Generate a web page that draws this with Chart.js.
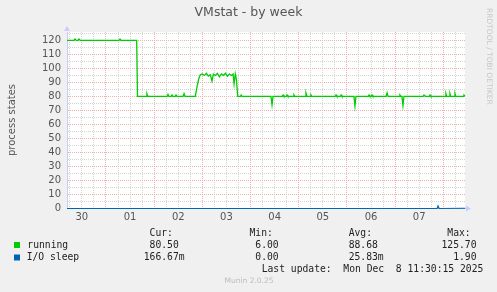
<!DOCTYPE html>
<html lang="en">
<head>
<meta charset="UTF-8">
<title>VMstat - by week</title>
<style>
  body { margin: 0; padding: 0; background: #f0f0f0; }
  #wrap { width: 497px; height: 292px; }
</style>
<script src="https://cdn.jsdelivr.net/npm/chart.js"></script>
</head>
<body>
<div id="wrap"><canvas id="vmstat" width="497" height="292"></canvas></div>
<script>
// x values are hours counted from Nov 30 00:00
var dayLabels = ['30', '01', '02', '03', '04', '05', '06', '07'];

var runningHours = [4.6, 8.0, 8.6, 9.2, 10.0, 10.6, 11.2, 30.5, 31.0, 31.5, 39.3, 39.7,
  44.0, 44.4, 44.9, 54.5, 54.9, 55.4, 56.5, 56.9, 57.4, 58.5, 58.9, 59.4, 62.4, 62.9, 63.4,
  68.5, 69.5, 70.3, 71.0, 72.0, 73.0, 74.0, 75.0, 76.0, 76.8, 77.5, 78.5, 79.5, 80.5, 81.5,
  82.5, 83.5, 84.5, 85.5, 86.5, 87.3, 87.8, 88.4, 89.0, 89.6,
  91.0, 91.3, 91.8, 106.2, 106.7, 107.2, 111.8, 112.2, 112.6, 113.8, 114.2, 114.6,
  117.2, 117.6, 118.0, 123.2, 123.6, 124.1, 125.7, 126.1, 126.5, 138.2, 138.6, 139.0,
  140.7, 141.1, 141.5, 147.5, 148.0, 148.5, 154.6, 155.0, 155.4, 156.1, 156.5, 156.9,
  163.5, 164.0, 164.5, 170.0, 170.4, 170.9, 171.4, 171.9, 172.4, 182.0, 182.4, 182.8, 183.2,
  185.0, 185.4, 185.8, 192.9, 193.3, 193.7, 194.9, 195.3, 195.7, 197.4, 197.8, 198.2,
  201.9, 202.3, 202.8];
var runningValues = [120, 120, 121, 120, 120, 121, 120, 120, 121, 120, 120, 80,
  80, 82, 80, 80, 81.5, 80, 80, 81, 80, 80, 81, 80, 80, 82, 80,
  80, 88, 93, 95.5, 96, 95, 96.5, 94.5, 95.5, 91, 96, 95, 96.5, 94, 96,
  95, 96.5, 94.5, 96, 95, 96, 89, 96, 92, 80,
  80, 81, 80, 80, 74, 80, 80, 81, 80, 80, 81, 80,
  80, 81, 80, 80, 82.5, 80, 80, 81, 80, 80, 81, 80,
  80, 81, 80, 80, 73, 80, 80, 81, 80, 80, 81, 80,
  80, 82.5, 80, 80, 81, 80, 80, 73.5, 80, 80, 81, 81, 80,
  80, 81, 80, 80, 82, 80, 80, 82, 80, 80, 82, 80,
  80, 81, 80.5];

var ioHours = [4.6, 188.9, 189.4, 189.9, 202.8];
var ioValues = [0, 0, 1.9, 0, 0.17];

var statHeaders = ['Cur:', 'Min:', 'Avg:', 'Max:'];
var runningStats = ['80.50', '6.00', '88.68', '125.70'];
var ioStats = ['166.67m', '0.00', '25.83m', '1.90'];

function toPoints(xs, ys) {
  return xs.map(function (x, i) { return { x: x, y: ys[i] }; });
}

var MONO = '9.7px "DejaVu Sans Mono", monospace';
var SANS = '"DejaVu Sans", sans-serif';
var colEnds = [184.6, 284.5, 383.7, 482.3];
var MINOR = 'rgb(212,212,212)';
var MAJOR = 'rgb(242,175,175)';

var munin = {
  id: 'munin',
  beforeDraw: function (chart) {
    var ctx = chart.ctx, a = chart.chartArea;
    ctx.save();
    ctx.fillStyle = '#f0f0f0';
    ctx.fillRect(0, 0, chart.width, chart.height);
    ctx.fillStyle = '#ffffff';
    ctx.fillRect(a.left, a.top, a.right - a.left, a.bottom - a.top);
    ctx.restore();
  },
  afterDraw: function (chart) {
    var ctx = chart.ctx, a = chart.chartArea;
    ctx.save();
    // axis arrows
    ctx.fillStyle = '#c8ccff';
    ctx.beginPath();
    ctx.moveTo(a.left - 3, a.top - 1);
    ctx.lineTo(a.left + 3, a.top - 1);
    ctx.lineTo(a.left, a.top - 6);
    ctx.fill();
    ctx.beginPath();
    ctx.moveTo(a.right + 1, a.bottom - 3);
    ctx.lineTo(a.right + 1, a.bottom + 3);
    ctx.lineTo(a.right + 6, a.bottom);
    ctx.fill();

    // title
    ctx.fillStyle = '#555';
    ctx.font = '12.5px ' + SANS;
    ctx.textAlign = 'center';
    ctx.textBaseline = 'middle';
    ctx.fillText('VMstat - by week', 248.5, 13);

    // y title
    ctx.save();
    ctx.translate(12, 120);
    ctx.rotate(-Math.PI / 2);
    ctx.font = '10px ' + SANS;
    ctx.fillText('process states', 0, 0);
    ctx.restore();

    // side watermark
    ctx.save();
    ctx.translate(489, 8);
    ctx.rotate(Math.PI / 2);
    ctx.fillStyle = '#c8c8c8';
    ctx.font = '7.5px ' + SANS;
    ctx.textAlign = 'left';
    ctx.fillText('RRDTOOL / TOBI OETIKER', 0, 0);
    ctx.restore();

    // legend
    ctx.font = MONO;
    ctx.fillStyle = '#222';
    ctx.textAlign = 'right';
    statHeaders.forEach(function (h, i) { ctx.fillText(h + '  ', colEnds[i], 233.5); });
    function row(stats, y) {
      stats.forEach(function (s, i) {
        ctx.fillText(/m$/.test(s) ? s : s + ' ', colEnds[i], y);
      });
    }
    row(runningStats, 245.3);
    row(ioStats, 257.7);
    ctx.textAlign = 'left';
    ctx.fillText('running', 27.3, 245.3);
    ctx.fillText('I/O sleep', 26.7, 257.7);
    ctx.fillText('Last update:  Mon Dec  8 11:30:15 2025', 261.7, 269.7);
    ctx.fillStyle = '#00cc00';
    ctx.fillRect(14, 242, 6, 6);
    ctx.fillStyle = '#0066b3';
    ctx.fillRect(14, 254.5, 6, 6);

    ctx.fillStyle = '#bbbbbb';
    ctx.font = '7.5px ' + SANS;
    ctx.textAlign = 'center';
    ctx.fillText('Munin 2.0.25', 249, 281);
    ctx.restore();
  }
};

var ctx = document.getElementById('vmstat').getContext('2d');
var chart = new Chart(ctx, {
  type: 'line',
  data: {
    datasets: [{
      label: 'running',
      data: toPoints(runningHours, runningValues),
      borderColor: '#00cc00',
      borderWidth: 1.3,
      pointRadius: 0,
      tension: 0,
      clip: false
    }, {
      label: 'I/O sleep',
      data: toPoints(ioHours, ioValues),
      borderColor: '#0066b3',
      borderWidth: 1.2,
      pointRadius: 0,
      tension: 0,
      clip: false
    }]
  },
  options: {
    responsive: false,
    animation: false,
    layout: { padding: { top: 32, right: 32, left: 0, bottom: 0 } },
    plugins: { legend: { display: false }, tooltip: { enabled: false } },
    scales: {
      x: {
        type: 'linear',
        min: 4.6,
        max: 202.8,
        afterFit: function (s) { s.height = 83.5; },
        afterBuildTicks: function (s) {
          var t = [];
          for (var v = 6 * Math.ceil(s.min / 6); v <= s.max; v += 6) t.push({ value: v });
          s.ticks = t;
        },
        grid: {
          drawTicks: false,
          lineWidth: 1,
          color: function (c) {
            return c.tick && c.tick.value % 24 === 0 ? MAJOR : MINOR;
          }
        },
        border: { display: true, color: '#b8c0ff', dash: [1, 1] },
        ticks: {
          padding: 3,
          maxRotation: 0,
          autoSkip: false,
          color: '#555',
          font: { family: SANS, size: 10 },
          callback: function (v) {
            if ((v - 12) % 24 !== 0) return '';
            return dayLabels[(v - 12) / 24] || '';
          }
        }
      },
      y: {
        min: 0,
        max: 126,
        afterFit: function (s) { s.width = 67; },
        afterBuildTicks: function (s) {
          var t = [];
          for (var v = 0; v <= 125; v += 5) t.push({ value: v });
          s.ticks = t;
        },
        grid: {
          drawTicks: false,
          color: function (c) {
            return c.tick && c.tick.value % 10 === 0 ? MAJOR : MINOR;
          }
        },
        border: { display: true, color: '#c8ccff', dash: [1, 1] },
        ticks: {
          padding: 6,
          autoSkip: false,
          color: '#555',
          font: { family: SANS, size: 10 },
          callback: function (v) { return v % 10 === 0 ? String(v) : ''; }
        }
      }
    }
  },
  plugins: [munin]
});
</script>
</body>
</html>
